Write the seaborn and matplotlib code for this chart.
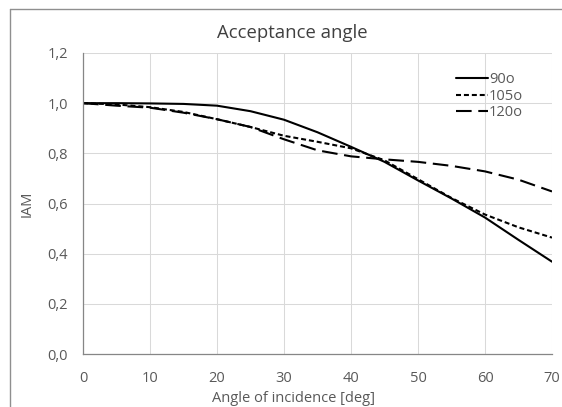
import matplotlib
matplotlib.use("Agg")
import matplotlib.pyplot as plt
import seaborn as sns
import pandas as pd
from matplotlib.lines import Line2D

angles = [0, 5, 10, 15, 20, 25, 30, 35, 40, 45, 50, 55, 60, 65, 70]
iam_90 = [1.0, 1.0, 0.999, 0.997, 0.99, 0.968, 0.934, 0.884, 0.826, 0.766, 0.692, 0.62, 0.544, 0.455, 0.368]
iam_105 = [1.0, 0.995, 0.984, 0.965, 0.936, 0.905, 0.87, 0.846, 0.82, 0.772, 0.697, 0.622, 0.556, 0.505, 0.464]
iam_120 = [1.0, 0.99, 0.982, 0.962, 0.936, 0.905, 0.856, 0.812, 0.788, 0.776, 0.766, 0.75, 0.728, 0.695, 0.648]
series_names = ["90o", "105o", "120o"]
x_ticks = [0, 10, 20, 30, 40, 50, 60, 70]
y_ticks = [0.0, 0.2, 0.4, 0.6, 0.8, 1.0, 1.2]
y_labels = ["0,0", "0,2", "0,4", "0,6", "0,8", "1,0", "1,2"]

df = pd.concat([
    pd.DataFrame({"angle": angles, "IAM": v, "series": n})
    for n, v in zip(series_names, [iam_90, iam_105, iam_120])
])

sns.set_theme(style="white")
plt.rcParams["font.family"] = ["Open Sans", "DejaVu Sans"]

W, H = 562, 407
fig = plt.figure(figsize=(W / 100, H / 100), dpi=100)
ax = fig.add_axes([83 / W, 1 - 354 / H, (552 - 83) / W, (354 - 53) / H])

dashes = {"90o": "", "105o": (2.4, 1.4), "120o": (7.5, 3.2)}
sns.lineplot(data=df, x="angle", y="IAM", hue="series", style="series",
             palette={n: "black" for n in series_names}, dashes=dashes,
             linewidth=1.5, ax=ax, legend=True)

text_col = "#595959"
ax.set_xlim(0, 70)
ax.set_ylim(0, 1.2)
ax.set_xticks(x_ticks)
ax.set_yticks(y_ticks)
ax.set_yticklabels(y_labels)
ax.grid(True, color="#d9d9d9", linewidth=0.75)
for s in ["top", "right"]:
    ax.spines[s].set_visible(False)
for s in ["left", "bottom"]:
    ax.spines[s].set_color("#868686")
    ax.spines[s].set_linewidth(0.9)
ax.tick_params(axis="both", which="both", length=4, width=0.9, color="#868686",
               labelsize=10.5, labelcolor=text_col, direction="out")
ax.tick_params(axis="x", pad=8)
ax.tick_params(axis="y", pad=7)
ax.set_xlabel("")
ax.set_ylabel("IAM", fontsize=10.5, color=text_col)
ax.yaxis.set_label_coords((35 - 83) / (552 - 83), 0.5)

fig.text(292 / W, 1 - 33 / H, "Acceptance angle", fontsize=13.3, color="#404040",
         ha="center", va="center")
fig.text(293 / W, 1 - 398 / H, "Angle of incidence [deg]", fontsize=10.5, color=text_col,
         ha="center", va="center")

handles, labels = ax.get_legend_handles_labels()
leg = ax.legend(handles, labels, title=None, frameon=False, loc="upper left",
                bbox_to_anchor=(456 / W, 1 - 72 / H), bbox_transform=fig.transFigure,
                borderpad=0, borderaxespad=0, fontsize=10.5,
                handlelength=2.2, handletextpad=0.05, labelspacing=0.12)
for t in leg.get_texts():
    t.set_color(text_col)

border_col = "#8f8f8f"
fig.add_artist(Line2D([10 / W, 10 / W], [0, 1 - 9 / H], transform=fig.transFigure,
                      color=border_col, linewidth=1.0))
fig.add_artist(Line2D([10 / W, 1], [1 - 9 / H, 1 - 9 / H], transform=fig.transFigure,
                      color=border_col, linewidth=1.0))

fig.savefig("out.png", dpi=100)
